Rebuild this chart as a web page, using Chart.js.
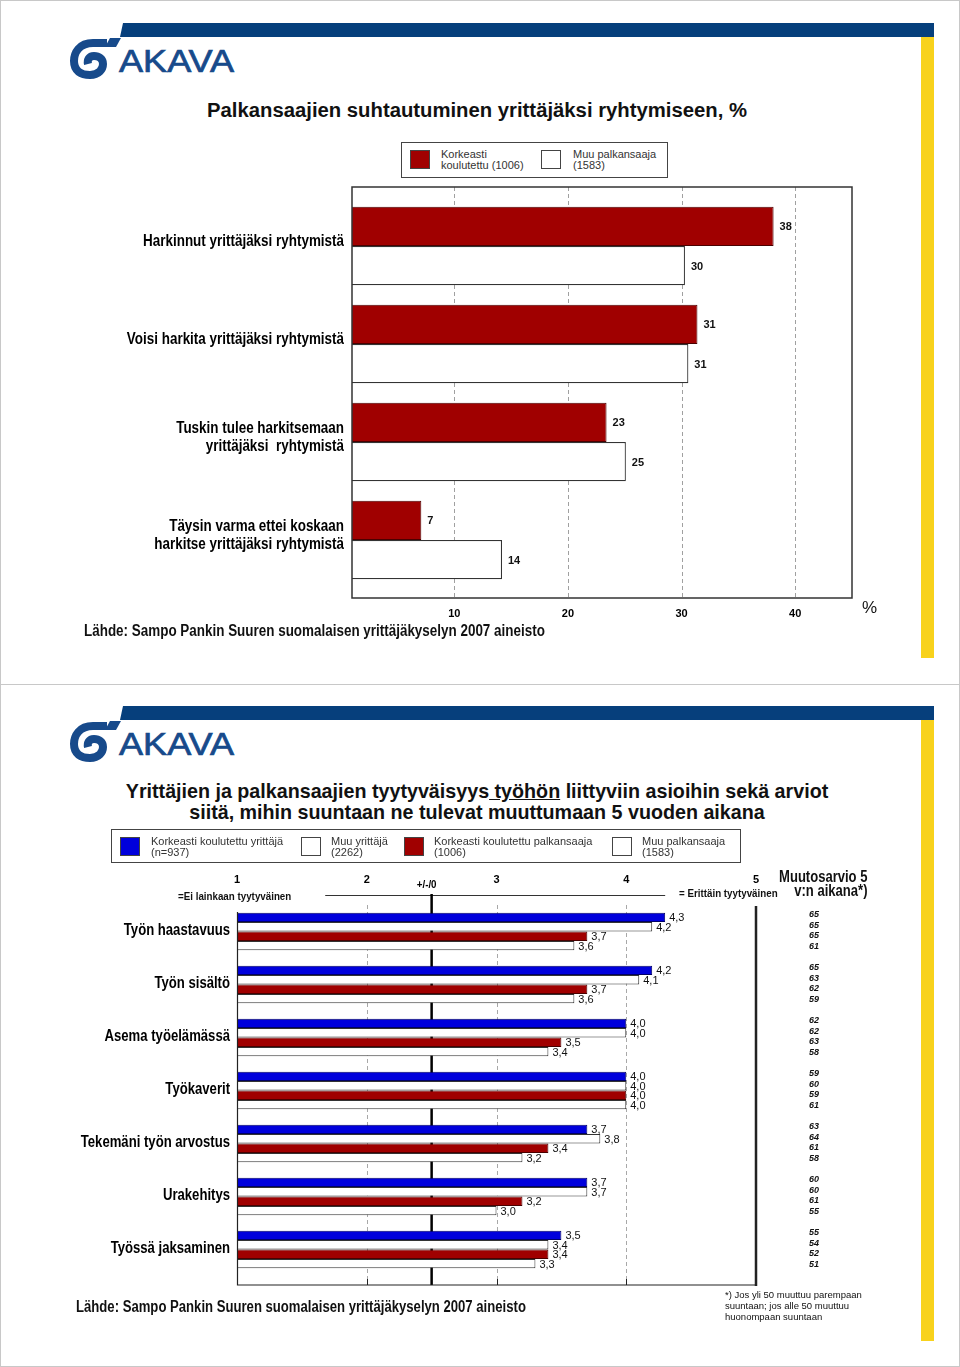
<!DOCTYPE html>
<html>
<head>
<meta charset="utf-8">
<script src="https://cdn.jsdelivr.net/npm/chart.js@4.4.0/dist/chart.umd.min.js"></script>
<style>
  body { margin:0; background:#fff; }
  #page { position:relative; width:960px; height:1367px; box-sizing:border-box; border:1px solid #c8c8c8; overflow:hidden; font-family:"Liberation Sans", Arial, sans-serif; color:#111; }
  .abs { position:absolute; white-space:nowrap; }
  .narrow { font-weight:bold; transform-origin:left top; }
  .title { left:0; width:952px; text-align:center; font-weight:bold; line-height:21px; }
  .legend { border:1px solid #444; box-sizing:border-box; }
  .sw { position:absolute; width:20px; height:19px; box-sizing:border-box; border:1px solid #444; }
  .lt { position:absolute; font-size:11px; line-height:11px; color:#333; white-space:nowrap; }
  canvas { position:absolute; left:0; }
</style>
</head>
<body>
<div id="page">
  <svg class="abs" style="left:0;top:0" width="960" height="1367" id="deco"></svg>

  <!-- slide 1 -->
  <div class="abs title" style="top:99px;font-size:20.3px">Palkansaajien suhtautuminen yrittäjäksi ryhtymiseen, %</div>
  <div class="abs legend" style="left:400px;top:141px;width:267px;height:36px">
    <div class="sw" style="left:8px;top:7px;background:#a00000"></div>
    <div class="lt" style="left:39px;top:6px">Korkeasti<br>koulutettu (1006)</div>
    <div class="sw" style="left:139px;top:7px;background:#fff"></div>
    <div class="lt" style="left:171px;top:6px">Muu palkansaaja<br>(1583)</div>
  </div>
  <canvas id="topChart" width="900" height="460" style="top:180px;width:900px;height:460px"></canvas>
  <div class="abs" style="left:861px;top:597px;font-size:17px">%</div>
  <div class="abs narrow" style="left:83px;top:621px;font-size:16px;transform:scaleX(0.84)">Lähde: Sampo Pankin Suuren suomalaisen yrittäjäkyselyn 2007 aineisto</div>

  <!-- slide 2 -->
  <div class="abs title" style="top:780px;font-size:19.7px">Yrittäjien ja palkansaajien tyytyväisyys<u> työhön</u> liittyviin asioihin sekä arviot<br>siitä, mihin suuntaan ne tulevat muuttumaan 5 vuoden aikana</div>
  <canvas id="bottomChart" width="900" height="440" style="top:860px;width:900px;height:440px"></canvas>
  <div class="abs legend" style="left:110px;top:828px;width:630px;height:34px">
    <div class="sw" style="left:8px;top:7px;background:#0000dc"></div>
    <div class="lt" style="left:39px;top:6px">Korkeasti koulutettu yrittäjä<br>(n=937)</div>
    <div class="sw" style="left:189px;top:7px;background:#fff"></div>
    <div class="lt" style="left:219px;top:6px">Muu yrittäjä<br>(2262)</div>
    <div class="sw" style="left:292px;top:7px;background:#a00000"></div>
    <div class="lt" style="left:322px;top:6px">Korkeasti koulutettu palkansaaja<br>(1006)</div>
    <div class="sw" style="left:500px;top:7px;background:#fff"></div>
    <div class="lt" style="left:530px;top:6px">Muu palkansaaja<br>(1583)</div>
  </div>
  <div class="abs narrow" style="left:177px;top:889px;font-size:11.5px;transform:scaleX(0.85)">=Ei lainkaan tyytyväinen</div>
  <div class="abs narrow" style="left:678px;top:886px;font-size:11.5px;transform:scaleX(0.85)">= Erittäin tyytyväinen</div>
  <div class="abs narrow" style="right:92px;top:869px;font-size:16px;line-height:14px;text-align:right;transform:scaleX(0.815);transform-origin:right top">Muutosarvio 5<br>v:n aikana*)</div>
  <div class="abs narrow" style="left:75px;top:1297px;font-size:16px;transform:scaleX(0.82)">Lähde: Sampo Pankin Suuren suomalaisen yrittäjäkyselyn 2007 aineisto</div>
  <div class="abs" style="left:724px;top:1288px;font-size:9.5px;line-height:11px">*) Jos yli 50 muuttuu parempaan<br>suuntaan; jos alle 50 muuttuu<br>huonompaan suuntaan</div>
</div>

<script>
// ========== Data: slide 1 ==========
const attitudeLabels = [
  ['Harkinnut yrittäjäksi ryhtymistä'],
  ['Voisi harkita yrittäjäksi ryhtymistä'],
  ['Tuskin tulee harkitsemaan', 'yrittäjäksi  ryhtymistä'],
  ['Täysin varma ettei koskaan', 'harkitse yrittäjäksi ryhtymistä']
];
const attitudeHigherEd = [38.1, 31.4, 23.4, 7.1];   // Korkeasti koulutettu (1006)
const attitudeOther = [30.3, 30.6, 25.1, 14.2];     // Muu palkansaaja (1583)
const attitudeTicks = [10, 20, 30, 40];

// ========== Data: slide 2 ==========
const topicLabels = ['Työn haastavuus', 'Työn sisältö', 'Asema työelämässä', 'Työkaverit',
  'Tekemäni työn arvostus', 'Urakehitys', 'Työssä jaksaminen'];
const entrepHigherEd = [4.3, 4.2, 4.0, 4.0, 3.7, 3.7, 3.5];
const entrepOther    = [4.2, 4.1, 4.0, 4.0, 3.8, 3.7, 3.4];
const employHigherEd = [3.7, 3.7, 3.5, 4.0, 3.4, 3.2, 3.4];
const employOther    = [3.6, 3.6, 3.4, 4.0, 3.2, 3.0, 3.3];
// Muutosarvio 5 v:n aikana, same order as the series
const changeEntrepHigherEd = [65, 65, 62, 59, 63, 60, 55];
const changeEntrepOther    = [65, 63, 62, 60, 64, 60, 54];
const changeEmployHigherEd = [65, 62, 63, 59, 61, 61, 52];
const changeEmployOther    = [61, 59, 58, 61, 58, 55, 51];
const satisfactionTicks = [1, 2, 3, 4, 5];

// ========== Helpers ==========
const SANS = '"Liberation Sans", Arial, sans-serif';
const RED = '#a00000', BLUE = '#0000dc';
function fi(n){ return n.toFixed(1).replace('.', ','); }

// bold narrow text (no Arial Narrow here, so squeeze the bold face)
function narrowText(ctx, text, x, y, size, sx, align){
  ctx.save();
  ctx.translate(x, y);
  ctx.scale(sx, 1);
  ctx.font = 'bold ' + size + 'px ' + SANS;
  ctx.textAlign = align; ctx.textBaseline = 'middle'; ctx.fillStyle = '#000';
  ctx.fillText(text, 0, 0);
  ctx.restore();
}

Chart.defaults.font.family = SANS;
Chart.defaults.color = '#000';

// ========== Header decoration (band, yellow strip, logo) ==========
(function drawDeco(){
  const svg = document.getElementById('deco');
  let s = '<line x1="0" y1="683.5" x2="960" y2="683.5" stroke="#c8c8c8" stroke-width="1"/>';
  [0, 683].forEach(o => {
    s += `<g transform="translate(0,${o})">
      <polygon points="122,22 933,22 933,36 119,36" fill="#063f7c"/>
      <rect x="920" y="36" width="13" height="621" fill="#f8d21c"/>
      <polygon points="109,37 120,37 115,46 104,46" fill="#174a8b"/>
      <path d="M106 42 L92 42 C78 42 73 52 73 60 C73 70 80 74 89 74 C98 74 102 68 102 63 C102 58 98 55 93 55 C88 55 86 59 87 63"
            fill="none" stroke="#174a8b" stroke-width="8"/>
      <text x="118" y="71" font-family="Liberation Sans, Arial" font-size="31" textLength="115"
            lengthAdjust="spacingAndGlyphs" fill="#174a8b" stroke="#174a8b" stroke-width="0.7">AKAVA</text>
    </g>`;
  });
  svg.innerHTML = s;
})();

// ========== Slide 1: horizontal bars ==========
const topDecor = {
  id: 'topDecor',
  beforeDatasetsDraw(chart){
    const { ctx, scales:{ x } } = chart;
    ctx.save();
    ctx.strokeStyle = '#a0a0a0'; ctx.lineWidth = 1; ctx.setLineDash([4, 3]);
    attitudeTicks.forEach(v => {
      const px = Math.round(x.getPixelForValue(v)) + 0.5;
      ctx.beginPath(); ctx.moveTo(px, 6); ctx.lineTo(px, 417); ctx.stroke();
    });
    ctx.restore();
  },
  afterDatasetsDraw(chart){
    const { ctx, chartArea:a, scales:{ y } } = chart;
    ctx.save();
    ctx.strokeStyle = '#333'; ctx.lineWidth = 1.5;
    ctx.strokeRect(a.left, 6, a.right - a.left, 411);
    ctx.font = 'bold 11px ' + SANS; ctx.fillStyle = '#111'; ctx.textBaseline = 'middle';
    chart.data.datasets.forEach((ds, di) => {
      chart.getDatasetMeta(di).data.forEach((el, i) => {
        ctx.fillText(String(Math.round(ds.data[i])), el.x + 6, el.y + 1);
      });
    });
    // category labels
    attitudeLabels.forEach((lines, i) => {
      const cy = y.getPixelForValue(i) - (lines.length - 1) * 9 - 4;
      lines.forEach((t, k) => narrowText(ctx, t, a.left - 8, cy + k * 18, 16, 0.84, 'right'));
    });
    ctx.restore();
  }
};

new Chart(document.getElementById('topChart'), {
  type: 'bar',
  data: {
    labels: attitudeLabels,
    datasets: [
      { label:'Korkeasti koulutettu (1006)', data: attitudeHigherEd, backgroundColor: RED, borderColor:'#4a0000', borderWidth:1 },
      { label:'Muu palkansaaja (1583)', data: attitudeOther, backgroundColor:'#fff', borderColor:'#333', borderWidth:1.2 }
    ]
  },
  options: {
    indexAxis: 'y', responsive: false, animation: false,
    categoryPercentage: 0.8, barPercentage: 1,
    layout: { padding: { top: 16, right: 49, bottom: 0, left: 0 } },
    plugins: { legend: { display:false }, tooltip: { enabled:false } },
    scales: {
      x: {
        type: 'linear', position: 'bottom', min: 1, max: 45,
        afterBuildTicks: s => { s.ticks = attitudeTicks.map(v => ({ value: v })); },
        afterFit: s => { s.height = 52; },
        grid: { display:false, drawTicks:false }, border: { display:false },
        ticks: { padding: 18, font: { size: 11, weight: 'bold' }, color:'#000' }
      },
      y: {
        afterFit: s => { s.width = 351; },
        grid: { display:false, drawTicks:false }, border: { display:false },
        ticks: { display:false }
      }
    }
  },
  plugins: [topDecor]
});

// ========== Slide 2: satisfaction bars ==========
const changeSeries = [changeEntrepHigherEd, changeEntrepOther, changeEmployHigherEd, changeEmployOther];

const bottomDecor = {
  id: 'bottomDecor',
  beforeDatasetsDraw(chart){
    const { ctx, scales:{ x } } = chart;
    ctx.save();
    ctx.strokeStyle = '#a8a8a8'; ctx.lineWidth = 1; ctx.setLineDash([4, 3]);
    [2, 3, 4].forEach(v => {
      const px = Math.round(x.getPixelForValue(v)) + 0.5;
      ctx.beginPath(); ctx.moveTo(px, 44); ctx.lineTo(px, 424); ctx.stroke();
    });
    ctx.setLineDash([]);
    ctx.strokeStyle = '#222';
    [2, 3, 4].forEach(v => {
      const px = Math.round(x.getPixelForValue(v)) + 0.5;
      ctx.beginPath(); ctx.moveTo(px, 418); ctx.lineTo(px, 424); ctx.stroke();
    });
    // top reference line
    ctx.strokeStyle = '#333'; ctx.lineWidth = 1;
    ctx.beginPath(); ctx.moveTo(x.getPixelForValue(1.68), 34.5); ctx.lineTo(x.getPixelForValue(4.3), 34.5); ctx.stroke();
    // neutral line +/-/0
    const mid = x.getPixelForValue(2.5);
    ctx.strokeStyle = '#000'; ctx.lineWidth = 2.5;
    ctx.beginPath(); ctx.moveTo(mid, 33); ctx.lineTo(mid, 424); ctx.stroke();
    narrowText(ctx, '+/-/0', mid - 5, 24, 11.5, 0.85, 'center');
    ctx.restore();
  },
  afterDatasetsDraw(chart){
    const { ctx, chartArea:a, scales:{ y } } = chart;
    ctx.save();
    ctx.strokeStyle = '#222'; ctx.lineWidth = 1.2;
    ctx.beginPath(); ctx.moveTo(a.left + 0.5, 51); ctx.lineTo(a.left + 0.5, 424); ctx.lineTo(a.right, 424); ctx.stroke();
    ctx.lineWidth = 2.5;
    ctx.beginPath(); ctx.moveTo(a.right, 45); ctx.lineTo(a.right, 425); ctx.stroke();
    // value labels
    ctx.font = '11px ' + SANS; ctx.fillStyle = '#111'; ctx.textBaseline = 'middle'; ctx.textAlign = 'left';
    chart.data.datasets.forEach((ds, di) => {
      chart.getDatasetMeta(di).data.forEach((el, i) => {
        ctx.fillText(fi(ds.data[i]), el.x + 4, el.y + 1);
      });
    });
    // change estimates column + category labels
    topicLabels.forEach((t, i) => {
      const cy = y.getPixelForValue(i);
      ctx.font = 'italic bold 9px ' + SANS; ctx.textAlign = 'center'; ctx.fillStyle = '#111';
      changeSeries.forEach((arr, k) => {
        ctx.fillText(String(arr[i]), 813, cy + (k - 1.5) * 10.6 - 1);
      });
      narrowText(ctx, t, a.left - 7, cy - 1, 16, 0.82, 'right');
    });
    ctx.restore();
  }
};

new Chart(document.getElementById('bottomChart'), {
  type: 'bar',
  data: {
    labels: topicLabels,
    datasets: [
      { label:'Korkeasti koulutettu yrittäjä (n=937)', data: entrepHigherEd, backgroundColor: BLUE, borderColor:'#000066', borderWidth:1 },
      { label:'Muu yrittäjä (2262)', data: entrepOther, backgroundColor:'#fff', borderColor:'#333', borderWidth:1 },
      { label:'Korkeasti koulutettu palkansaaja (1006)', data: employHigherEd, backgroundColor: RED, borderColor:'#4a0000', borderWidth:1 },
      { label:'Muu palkansaaja (1583)', data: employOther, backgroundColor:'#fff', borderColor:'#333', borderWidth:1 }
    ]
  },
  options: {
    indexAxis: 'y', responsive: false, animation: false,
    categoryPercentage: 0.71, barPercentage: 1,
    layout: { padding: { top: 0, right: 145, bottom: 25, left: 0 } },
    plugins: { legend: { display:false }, tooltip: { enabled:false } },
    scales: {
      x: {
        type: 'linear', position: 'top', min: 1, max: 5,
        afterBuildTicks: s => { s.ticks = satisfactionTicks.map(v => ({ value: v })); },
        afterFit: s => { s.height = 44; },
        grid: { display:false, drawTicks:false }, border: { display:false },
        ticks: { padding: 18, font: { size: 11, weight: 'bold' }, color:'#000' }
      },
      y: {
        afterFit: s => { s.width = 236; },
        grid: { display:false, drawTicks:false }, border: { display:false },
        ticks: { display:false }
      }
    }
  },
  plugins: [bottomDecor]
});
</script>
</body>
</html>
